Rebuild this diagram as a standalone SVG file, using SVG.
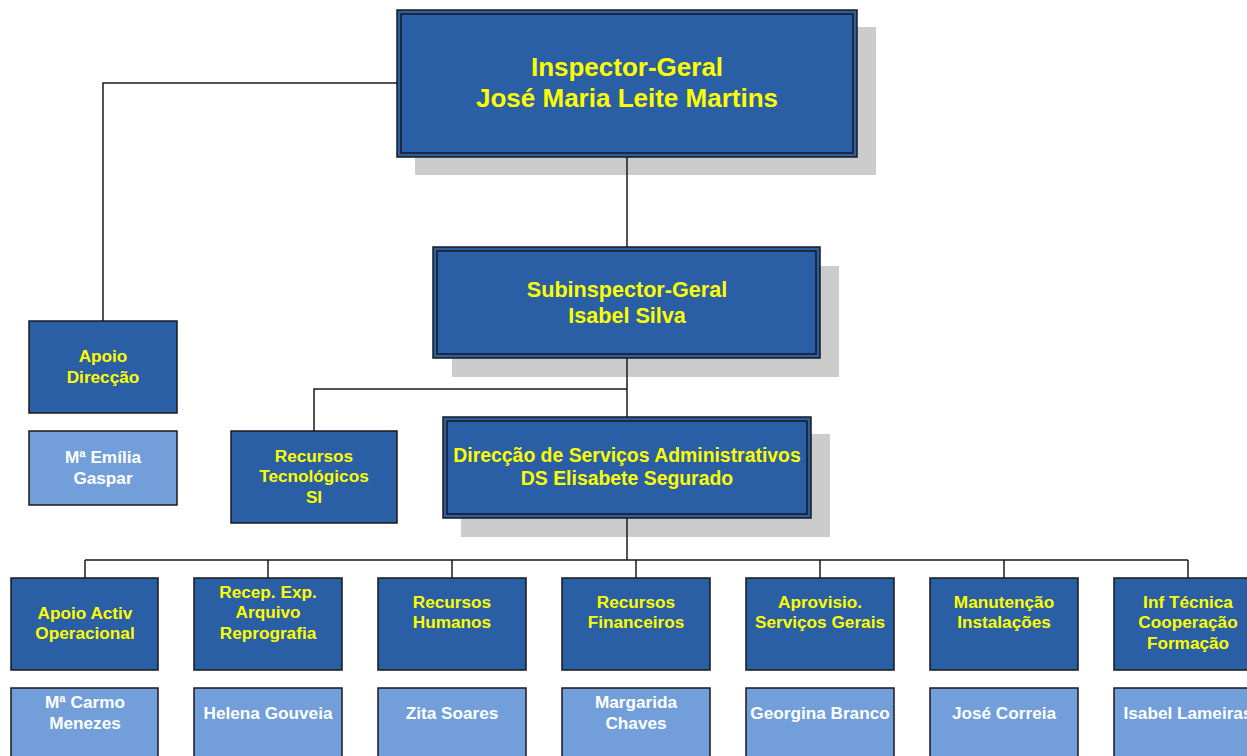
<svg xmlns="http://www.w3.org/2000/svg" width="1247" height="756" viewBox="0 0 1247 756">
<style>
.shadow{fill:#cccccc}
.dk{fill:#2a5ea5;stroke:#1a1a1a;stroke-width:1.5}
.lt{fill:#729fd9;stroke:#1a1a1a;stroke-width:1.5}
.inner{fill:none;stroke:#1a1a1a;stroke-width:1.5}
text{font-family:"Liberation Sans",Arial,sans-serif;font-weight:bold;text-anchor:middle}
.y{fill:#ffff00}
.w{fill:#ffffff}
.s17{font-size:17.2px}
.conn{fill:none;stroke:#1a1a1a;stroke-width:1.5}
</style>
<rect width="1247" height="756" fill="#ffffff"/>
<g id="inspector-geral">
<rect class="shadow" x="415" y="27" width="461" height="148"/>
<rect class="dk" x="397" y="10" width="460" height="147"/>
<rect class="inner" x="401" y="14" width="452" height="139"/>
<text class="y" x="627" y="76" font-size="26">Inspector-Geral</text>
<text class="y" x="627" y="107" font-size="26">José Maria Leite Martins</text>
</g>
<g id="subinspector-geral">
<rect class="shadow" x="452" y="266" width="387" height="111"/>
<rect class="dk" x="433" y="247" width="387" height="111"/>
<rect class="inner" x="437" y="251" width="379" height="103"/>
<text class="y" x="627" y="297" font-size="21.6">Subinspector-Geral</text>
<text class="y" x="627" y="323" font-size="21.6">Isabel Silva</text>
</g>
<g id="direccao-servicos">
<rect class="shadow" x="461" y="434" width="369" height="103"/>
<rect class="dk" x="443" y="417" width="368" height="101"/>
<rect class="inner" x="447" y="421" width="360" height="93"/>
<text class="y" x="627" y="462" font-size="19.4">Direcção de Serviços Administrativos</text>
<text class="y" x="627" y="485" font-size="19.4">DS Elisabete Segurado</text>
</g>
<g id="apoio-direccao">
<rect class="dk" x="29" y="321" width="148" height="92"/>
<text class="y s17" x="103" y="362">Apoio</text>
<text class="y s17" x="103" y="383">Direcção</text>
</g>
<g id="emilia-gaspar">
<rect class="lt" x="29" y="431" width="148" height="74"/>
<text class="w s17" x="103" y="463">Mª Emília</text>
<text class="w s17" x="103" y="484">Gaspar</text>
</g>
<g id="recursos-tecnologicos">
<rect class="dk" x="231" y="431" width="166" height="92"/>
<text class="y s17" x="314" y="462">Recursos</text>
<text class="y s17" x="314" y="482">Tecnológicos</text>
<text class="y s17" x="314" y="503">SI</text>
</g>
<g id="apoio-activ">
<rect class="dk" x="11" y="578" width="147" height="92"/>
<text class="y s17" x="85" y="619">Apoio Activ</text>
<text class="y s17" x="85" y="639">Operacional</text>
</g>
<g id="carmo-menezes">
<rect class="lt" x="11" y="688" width="147" height="80"/>
<text class="w s17" x="85" y="708">Mª Carmo</text>
<text class="w s17" x="85" y="729">Menezes</text>
</g>
<g id="recep-exp">
<rect class="dk" x="194" y="578" width="148" height="92"/>
<text class="y s17" x="268" y="598">Recep. Exp.</text>
<text class="y s17" x="268" y="618">Arquivo</text>
<text class="y s17" x="268" y="639">Reprografia</text>
</g>
<g id="helena-gouveia">
<rect class="lt" x="194" y="688" width="148" height="80"/>
<text class="w s17" x="268" y="719">Helena Gouveia</text>
</g>
<g id="recursos-humanos">
<rect class="dk" x="378" y="578" width="148" height="92"/>
<text class="y s17" x="452" y="608">Recursos</text>
<text class="y s17" x="452" y="628">Humanos</text>
</g>
<g id="zita-soares">
<rect class="lt" x="378" y="688" width="148" height="80"/>
<text class="w s17" x="452" y="719">Zita Soares</text>
</g>
<g id="recursos-financeiros">
<rect class="dk" x="562" y="578" width="148" height="92"/>
<text class="y s17" x="636" y="608">Recursos</text>
<text class="y s17" x="636" y="628">Financeiros</text>
</g>
<g id="margarida-chaves">
<rect class="lt" x="562" y="688" width="148" height="80"/>
<text class="w s17" x="636" y="708">Margarida</text>
<text class="w s17" x="636" y="729">Chaves</text>
</g>
<g id="aprovisio">
<rect class="dk" x="746" y="578" width="148" height="92"/>
<text class="y s17" x="820" y="608">Aprovisio.</text>
<text class="y s17" x="820" y="628">Serviços Gerais</text>
</g>
<g id="georgina-branco">
<rect class="lt" x="746" y="688" width="148" height="80"/>
<text class="w s17" x="820" y="719">Georgina Branco</text>
</g>
<g id="manutencao">
<rect class="dk" x="930" y="578" width="148" height="92"/>
<text class="y s17" x="1004" y="608">Manutenção</text>
<text class="y s17" x="1004" y="628">Instalações</text>
</g>
<g id="jose-correia">
<rect class="lt" x="930" y="688" width="148" height="80"/>
<text class="w s17" x="1004" y="719">José Correia</text>
</g>
<g id="inf-tecnica">
<rect class="dk" x="1114" y="578" width="148" height="92"/>
<text class="y s17" x="1188" y="608">Inf Técnica</text>
<text class="y s17" x="1188" y="628">Cooperação</text>
<text class="y s17" x="1188" y="649">Formação</text>
</g>
<g id="isabel-lameiras">
<rect class="lt" x="1114" y="688" width="148" height="80"/>
<text class="w s17" x="1188" y="719">Isabel Lameiras</text>
</g>
<g id="connectors">
<polyline class="conn" points="397,83 103,83 103,321"/>
<line class="conn" x1="627" y1="157" x2="627" y2="247"/>
<line class="conn" x1="627" y1="358" x2="627" y2="417"/>
<polyline class="conn" points="627,389 314,389 314,431"/>
<line class="conn" x1="627" y1="518" x2="627" y2="560"/>
<line class="conn" x1="85" y1="560" x2="1188" y2="560"/>
<line class="conn" x1="85" y1="560" x2="85" y2="578"/>
<line class="conn" x1="268" y1="560" x2="268" y2="578"/>
<line class="conn" x1="452" y1="560" x2="452" y2="578"/>
<line class="conn" x1="636" y1="560" x2="636" y2="578"/>
<line class="conn" x1="820" y1="560" x2="820" y2="578"/>
<line class="conn" x1="1004" y1="560" x2="1004" y2="578"/>
<line class="conn" x1="1188" y1="560" x2="1188" y2="578"/>
</g>
</svg>
